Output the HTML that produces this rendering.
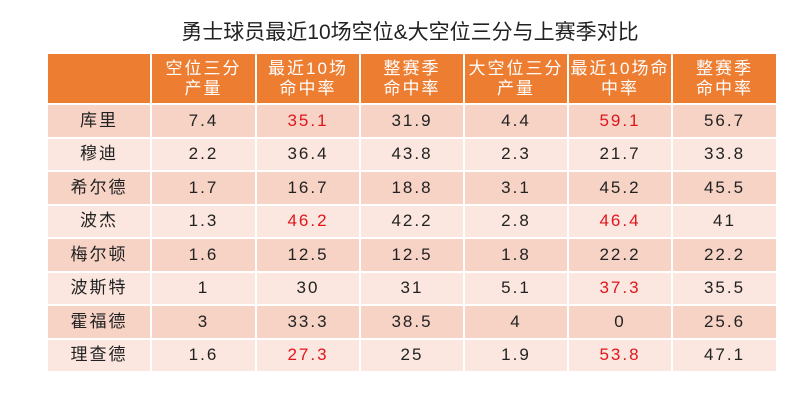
<!DOCTYPE html>
<html><head><meta charset="utf-8"><style>
body{margin:0;width:800px;height:409px;background:#fff;font-family:"Liberation Sans","Noto Sans CJK SC",sans-serif;position:relative;overflow:hidden}
.t{position:absolute;top:16px;left:0;width:820px;text-align:center;font-size:21px;color:#222}
table{position:absolute;left:46px;top:52px;border-collapse:collapse;table-layout:fixed}
td{border:2px solid #fff;text-align:center;font-size:17px;color:#222;padding:0;letter-spacing:2px;line-height:20px}
tr.h td{background:#ED7D31;color:#fff;height:49px;line-height:20px;font-size:17px;letter-spacing:2px}
tr.a td{background:#F7D3C6;height:31.5px}
tr.b td{background:#FBE7DF;height:31.5px}
.r{color:#e0161c}
</style></head><body>
<div class="t">勇士球员最近10场空位&amp;大空位三分与上赛季对比</div>
<table>
<colgroup><col style="width:104px"><col style="width:105px"><col style="width:104px"><col style="width:104px"><col style="width:104px"><col style="width:104px"><col style="width:105px"></colgroup>
<tr class="h"><td></td><td>空位三分<br>产量</td><td>最近10场<br>命中率</td><td>整赛季<br>命中率</td><td>大空位三分<br>产量</td><td>最近10场命<br>中率</td><td>整赛季<br>命中率</td></tr>
<tr class="a"><td>库里</td><td>7.4</td><td class="r">35.1</td><td>31.9</td><td>4.4</td><td class="r">59.1</td><td>56.7</td></tr>
<tr class="b"><td>穆迪</td><td>2.2</td><td>36.4</td><td>43.8</td><td>2.3</td><td>21.7</td><td>33.8</td></tr>
<tr class="a"><td>希尔德</td><td>1.7</td><td>16.7</td><td>18.8</td><td>3.1</td><td>45.2</td><td>45.5</td></tr>
<tr class="b"><td>波杰</td><td>1.3</td><td class="r">46.2</td><td>42.2</td><td>2.8</td><td class="r">46.4</td><td>41</td></tr>
<tr class="a"><td>梅尔顿</td><td>1.6</td><td>12.5</td><td>12.5</td><td>1.8</td><td>22.2</td><td>22.2</td></tr>
<tr class="b"><td>波斯特</td><td>1</td><td>30</td><td>31</td><td>5.1</td><td class="r">37.3</td><td>35.5</td></tr>
<tr class="a"><td>霍福德</td><td>3</td><td>33.3</td><td>38.5</td><td>4</td><td>0</td><td>25.6</td></tr>
<tr class="b"><td>理查德</td><td>1.6</td><td class="r">27.3</td><td>25</td><td>1.9</td><td class="r">53.8</td><td>47.1</td></tr>
</table>
</body></html>
